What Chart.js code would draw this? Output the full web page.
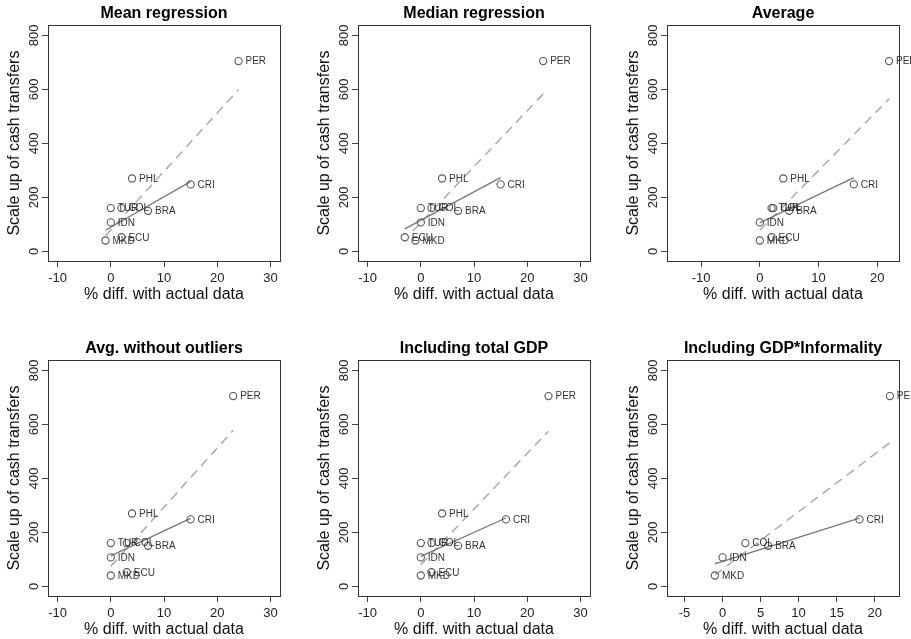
<!DOCTYPE html>
<html>
<head>
<meta charset="utf-8">
<script src="https://cdn.jsdelivr.net/npm/chart.js@4/dist/chart.umd.min.js"></script>
<style>
  html, body { margin: 0; padding: 0; background: #fff; overflow: hidden; }
  body { width: 911px; height: 639px; position: relative; }
  canvas { position: absolute; }
</style>
</head>
<body>
<canvas id="p1" width="303" height="306" style="left:0px;top:0px"></canvas>
<canvas id="p2" width="303" height="306" style="left:309.7px;top:0px"></canvas>
<canvas id="p3" width="303" height="306" style="left:618.7px;top:0px"></canvas>
<canvas id="p4" width="303" height="306" style="left:0px;top:335px"></canvas>
<canvas id="p5" width="303" height="306" style="left:309.7px;top:335px"></canvas>
<canvas id="p6" width="303" height="306" style="left:618.7px;top:335px"></canvas>
<script>
// países e escala
const countries = ['PER', 'PHL', 'CRI', 'TUR', 'COL', 'BRA', 'IDN', 'ECU', 'MKD'];
const scaleUp = [705, 270, 248, 160, 160, 150, 107, 52, 40];

// % diff. por método
const diffMean = [24, 4, 15, 0, 2, 7, 0, 2, -1];
const diffMedian = [23, 4, 15, 0, 2, 7, 0, -3, -1];
const diffAverage = [22, 4, 16, 2, 2.3, 5, 0, 2, 0];
const diffNoOutliers = [23, 4, 15, 0, 3, 7, 0, 3, 0];
const diffTotalGdp = [24, 4, 16, 0, 2, 7, 0, 2, 0];

// último painel tem menos países
const countriesInf = ['PER', 'CRI', 'COL', 'BRA', 'IDN', 'MKD'];
const scaleUpInf = [705, 248, 160, 150, 107, 40];
const diffGdpInf = [22, 18, 3, 6, 0, -1];

// retas ajustadas: sem PER (sólida) e com todos (tracejada)
const meanFitX = [-1, 15], meanFitY = [78, 258];
const meanAllX = [-1, 24], meanAllY = [58, 599];
const medianFitX = [-3, 15], medianFitY = [83, 273];
const medianAllX = [-1.5, 23], medianAllY = [75, 583];
const averageFitX = [0, 16], averageFitY = [105, 273];
const averageAllX = [0, 22], averageAllY = [78, 565];
const noOutFitX = [0, 15], noOutFitY = [113, 252];
const noOutAllX = [0, 23], noOutAllY = [74, 578];
const gdpFitX = [0, 16], gdpFitY = [111, 253];
const gdpAllX = [0, 24], gdpAllY = [80, 575];
const infFitX = [-1, 18], infFitY = [83, 253];
const infAllX = [-1, 22], infAllY = [42, 532];

// ticks
const yTicks = [0, 200, 400, 600, 800];
const xTicksWide = [-10, 0, 10, 20, 30];
const xTicksAvg = [-10, 0, 10, 20];
const xTicksInf = [-5, 0, 5, 10, 15, 20];

Chart.defaults.font.family = '"Liberation Sans", Arial, sans-serif';
Chart.defaults.color = '#222';

const toPoints = (xs, ys) => xs.map((x, i) => ({ x, y: ys[i] }));

// rótulos dos países à direita dos pontos
const labelPlugin = {
  id: 'pointLabels',
  afterDatasetsDraw(chart) {
    const meta = chart.getDatasetMeta(0);
    const names = chart.data.datasets[0].names;
    const ctx = chart.ctx;
    ctx.save();
    ctx.font = '10px "Liberation Sans", Arial, sans-serif';
    ctx.fillStyle = '#333';
    ctx.textBaseline = 'middle';
    ctx.textAlign = 'left';
    meta.data.forEach((pt, i) => ctx.fillText(names[i], pt.x + 7, pt.y + 0.5));
    ctx.restore();
  }
};

// caixa em volta da área do gráfico
const boxPlugin = {
  id: 'plotBox',
  afterDraw(chart) {
    const a = chart.chartArea;
    const ctx = chart.ctx;
    ctx.save();
    ctx.strokeStyle = '#333';
    ctx.lineWidth = 1;
    ctx.strokeRect(Math.round(a.left) + 0.5, Math.round(a.top) + 0.5,
      Math.round(a.right - a.left), Math.round(a.bottom - a.top));
    ctx.restore();
  }
};

function createPanel(id, title, names, xs, ys, xMin, xMax, xTicks, fitX, fitY, allX, allY) {
  return new Chart(document.getElementById(id), {
    type: 'scatter',
    data: {
      datasets: [
        {
          data: toPoints(xs, ys),
          names,
          pointRadius: 3.6,
          pointBorderWidth: 1.1,
          borderColor: '#555',
          backgroundColor: 'rgba(0,0,0,0)'
        },
        {
          data: toPoints(fitX, fitY),
          showLine: true,
          pointRadius: 0,
          borderColor: '#777',
          borderWidth: 1.3
        },
        {
          data: toPoints(allX, allY),
          showLine: true,
          pointRadius: 0,
          borderColor: '#aaa',
          borderWidth: 1.5,
          borderDash: [9, 6]
        }
      ]
    },
    options: {
      responsive: false,
      animation: false,
      layout: { padding: { left: 0, right: 23, top: 0, bottom: 0 } },
      plugins: {
        legend: { display: false },
        tooltip: { enabled: false },
        title: {
          display: true,
          text: title,
          fullSize: false,
          color: '#000',
          font: { size: 16, weight: 'bold' },
          padding: { top: 4, bottom: 2 }
        }
      },
      scales: {
        x: {
          type: 'linear',
          min: xMin,
          max: xMax,
          afterBuildTicks: s => { s.ticks = xTicks.map(v => ({ value: v })); },
          afterFit: s => { s.height = 45; },
          ticks: { font: { size: 13 }, color: '#222', padding: 4, maxRotation: 0 },
          grid: { drawOnChartArea: false, drawTicks: true, tickLength: 6, color: '#444' },
          border: { display: true, color: '#444' },
          title: {
            display: true,
            text: '% diff. with actual data',
            color: '#111',
            font: { size: 16 },
            padding: { top: 0, bottom: 2 }
          }
        },
        y: {
          type: 'linear',
          min: -36,
          max: 838,
          afterBuildTicks: s => { s.ticks = yTicks.map(v => ({ value: v })); },
          afterFit: s => { s.width = 48; },
          ticks: { font: { size: 13 }, color: '#222', minRotation: 90, maxRotation: 90, crossAlign: 'center', padding: -3 },
          grid: { drawOnChartArea: false, drawTicks: true, tickLength: 6, color: '#444' },
          border: { display: true, color: '#444' },
          title: {
            display: true,
            text: 'Scale up of cash transfers',
            color: '#111',
            font: { size: 16 },
            padding: { top: 5, bottom: 0 }
          }
        }
      }
    },
    plugins: [labelPlugin, boxPlugin]
  });
}

createPanel('p1', 'Mean regression', countries, diffMean, scaleUp, -11.8, 31.8, xTicksWide, meanFitX, meanFitY, meanAllX, meanAllY);
createPanel('p2', 'Median regression', countries, diffMedian, scaleUp, -11.8, 31.8, xTicksWide, medianFitX, medianFitY, medianAllX, medianAllY);
createPanel('p3', 'Average', countries, diffAverage, scaleUp, -15.8, 23.7, xTicksAvg, averageFitX, averageFitY, averageAllX, averageAllY);
createPanel('p4', 'Avg. without outliers', countries, diffNoOutliers, scaleUp, -11.8, 31.8, xTicksWide, noOutFitX, noOutFitY, noOutAllX, noOutAllY);
createPanel('p5', 'Including total GDP', countries, diffTotalGdp, scaleUp, -11.8, 31.8, xTicksWide, gdpFitX, gdpFitY, gdpAllX, gdpAllY);
createPanel('p6', 'Including GDP*Informality', countriesInf, diffGdpInf, scaleUpInf, -7.3, 23.2, xTicksInf, infFitX, infFitY, infAllX, infAllY);
</script>
</body>
</html>
